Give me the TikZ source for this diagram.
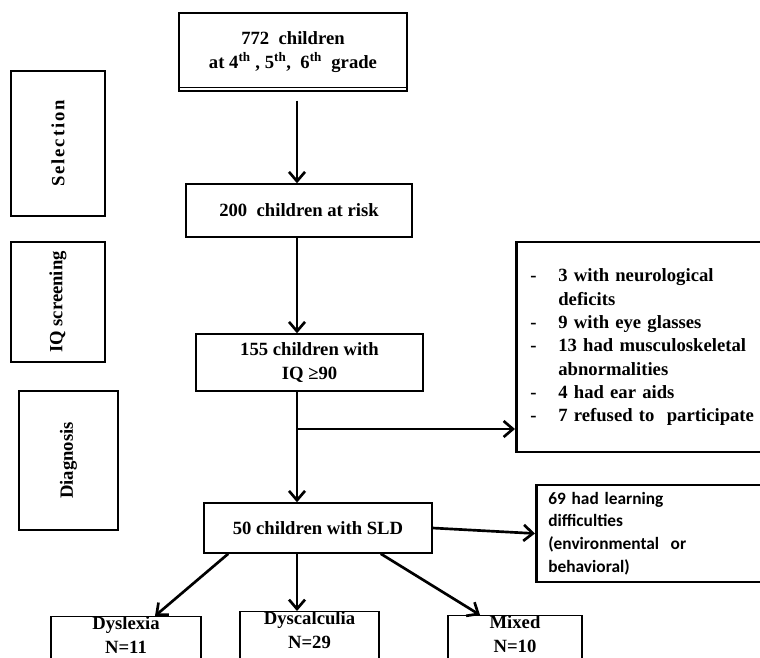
\documentclass[tikz,border=0pt]{standalone}
\usepackage{fontspec}
\setmainfont{Liberation Serif}[BoldFont={Liberation Serif Bold}]
\newfontfamily\notefont{Carlito}[BoldFont={Carlito Bold}]
\usepackage{tikz}
\usetikzlibrary{arrows.meta}

\begin{document}
\begin{tikzpicture}[x=0.75pt, y=-0.75pt,
  box/.style={draw, line width=1.1pt, align=center, inner sep=1pt,
    font=\fontsize{14}{17.5}\selectfont\bfseries},
  stage/.style={box, rotate=90},
  outbox/.style={draw, line width=2pt, anchor=west, align=left},
  result/.style={box, anchor=north, inner ysep=0pt, text depth=20pt,
    font=\fontsize{14}{18}\selectfont\bfseries},
  arr/.style={-{Straight Barb[length=7pt,width=12pt]}, line width=2pt}]
  \useasboundingbox (0,0) rectangle (760,657);
  \coordinate (spine) at (297,0);
  % stages
  \node[stage, minimum width=108.75pt, minimum height=70.5pt] (selection) at (58,143.5)
    {\addfontfeature{LetterSpace=10}Selection};
  \node[stage, minimum width=90pt, minimum height=70.5pt] (screening) at (58,302) {IQ screening};
  \node[stage, minimum width=104.25pt, minimum height=74.25pt] (diagnosis) at (68.5,460.5) {Diagnosis};
  % main flow
  \node[box, minimum width=171pt, minimum height=58.5pt] (top) at (293,52)
    {772~~children\\at 4\textsuperscript{th} , 5\textsuperscript{th},~~6\textsuperscript{th}~~grade};
  \draw[line width=1.1pt] ([yshift=3pt]top.south west) -- ([yshift=3pt]top.south east);
  \node[box, minimum width=169.5pt, minimum height=39.75pt] (risk) at (299,210.5) {200~~children at risk};
  \node[box, minimum width=170.25pt, minimum height=42.75pt] (iq) at (309.5,362.5) {155 children with\\IQ ≥90};
  \node[box, minimum width=171pt, minimum height=37.5pt] (sld) at (318,528) {50 children with SLD};
  % excluded
  \node[outbox, minimum height=157.5pt, text width=170pt, inner xsep=10.5pt,
    font=\fontsize{14}{17.5}\selectfont\bfseries] (excl) at (515,347)
    {\noindent\begin{tabular}{@{}p{21pt}@{}l@{}}
      - & 3 with neurological\\
        & deficits\\
      - & 9 with eye glasses\\
      - & 13 had musculoskeletal\\
        & abnormalities\\
      - & 4 had ear aids\\
      - & 7 refused to~~participate
    \end{tabular}};
  \node[outbox, minimum height=72.75pt, text width=158pt, inner xsep=9pt,
    font=\notefont\bfseries\fontsize{13}{17}\selectfont] (learning) at (535,533.5)
    {69 had learning\\difficulties\\(environmental~~or\\behavioral)};
  % results
  \node[result, minimum width=112.5pt] (dyslexia) at (126,616) {Dyslexia\\N=11};
  \node[result, minimum width=104.25pt] (dyscalc) at (309.5,611) {Dyscalculia\\N=29};
  \node[result, minimum width=100.5pt] (mixed) at (515,615) {Mixed\\N=10};
  % arrows
  \coordinate (topgap) at ([yshift=-6.75pt]top.south);
  \coordinate (fork) at (297,429);
  \draw[arr] (topgap -| spine) -- (risk.north -| spine);
  \draw[arr] (risk.south -| spine) -- (iq.north -| spine);
  \draw[arr] (iq.south -| spine) -- (sld.north -| spine);
  \draw[arr] (fork) -- (fork -| excl.west);
  \draw[arr] (sld.east) -- (learning.west);
  \draw[arr] ([xshift=18.75pt]sld.south west) -- ([xshift=21.75pt]dyslexia.north);
  \draw[arr] (sld.south -| spine) -- (dyscalc.north -| spine);
  \draw[arr] ([xshift=-39pt]sld.south east) -- ([xshift=-26.25pt]mixed.north);
\end{tikzpicture}
\end{document}
